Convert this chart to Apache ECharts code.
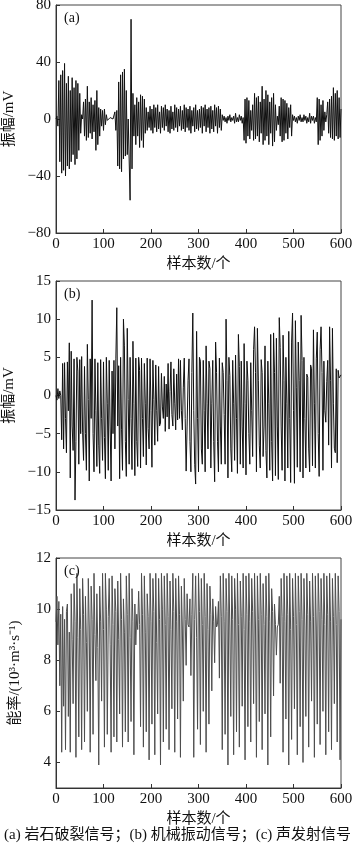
<!DOCTYPE html>
<html>
<head>
<meta charset="utf-8">
<script src="https://cdn.jsdelivr.net/npm/echarts@6/dist/echarts.min.js"></script>
<style>
  html, body { margin: 0; padding: 0; background: #fff; }
  #chart { width: 354px; height: 850px; }
</style>
</head>
<body>
<div id="chart"></div>
<script>
// sample step between points (samples 0..600)
var step = 2

// (a) rock fracture signal, mV
var rockData = [
  0, 2, -5, 27, -30, 31, -38, 34, -36, 39,
  -40, 25, -33, 30, -35, 20, -30, 29, -25, 22,
  -32, 27, -28, 25, -22, 18, -10, 3, 0, 12,
  -12, 14, -15, 23, -13, 12, -10, 15, -14, 10,
  -9, 13, -22, 20, -18, 8, -12, 7, -5, 6,
  -8, 7, -4, 3, -1, 0, 0, 1, 0, 0,
  0, -1, 5, -8, 6, -33, 26, -35, 31, -37,
  33, -28, 35, -26, 20, -25, 0, 1, -57, 70,
  -35, 18, -12, 10, -18, 15, -12, 12, -20, 17,
  -15, 16, -20, 14, -10, 8, -8, 5, -6, 9,
  -8, 7, -10, 10, -6, 8, -9, 10, -7, 5,
  -10, 9, -6, 8, -8, 10, -5, 7, -9, 6,
  -10, 9, -7, 5, -8, 10, -6, 8, -9, 7,
  -5, 9, -8, 6, -7, 10, -9, 8, -6, 7,
  -8, 9, -10, 6, -5, 8, -9, 10, -7, 6,
  -8, 7, -6, 9, -10, 8, -5, 10, -9, 7,
  -6, 8, -10, 9, -7, 6, -9, 10, -5, 8,
  -10, 9, -6, 7, -8, 3, -1, 2, -2, 1,
  -3, 2, -1, 3, -2, 1, -1, 2, -3, 4,
  -2, 1, -2, 3, -1, 2, -3, 1, -15, 14,
  -17, 15, -12, 13, -14, 6, -8, 10, -15, 18,
  -14, 15, -12, 16, -16, 12, -10, 23, -18, 14,
  -15, 20, -12, 17, -18, 12, -10, 15, -19, 18,
  -16, 10, -8, 2, -4, 9, -12, 15, -16, 14,
  -15, 13, -10, 11, -14, 8, -6, 10, -12, 3,
  -1, 2, -2, 1, -3, 2, -1, 3, -2, 1,
  -2, 3, -1, 2, -3, 1, -2, 4, -3, 2,
  -1, 2, -3, 1, -2, 15, -18, 14, -15, 10,
  -12, 13, -8, 5, -2, 3, 12, -10, 14, -13,
  16, -14, 22, -15, 18, -12, 20, -14, 15, -13,
  7
]

// (b) mechanical vibration signal, mV
var mechData = [
  0, -0.6, 0.9, -0.4, 0.6, 0, -5.8, 4.2, -7, 4.3,
  -3, -7.5, 4.4, -2, 6.9, -10.8, 5.8, -4, -7.2, 4.8,
  -13.7, -6, 5, 3.2, -9, 4.7, -5, 5.1, -4.8, -8.5,
  3.8, -5, -9.8, 6.7, -0.5, -11.2, 4.8, -3, 12.5, -5,
  -10, 4.8, -2, -9.3, 4.3, -6.5, -10.2, 4.7, -3, -8.5,
  4.4, -5.5, -10.9, 5, -1, -9.8, 4.6, -4, -11.2, 3.2,
  -5, 4.6, -7, 4.8, 11.5, -4, 3.9, -10.9, 5, -4.5,
  -9.8, 10, 6.5, -6, -10.6, 8.8, -0.5, -9, 5, -3,
  -9.7, 7.1, -1, -10.5, 4.9, -6, -9.3, 5, 3.3, -9.5,
  4.9, -3, -8, 4.2, -1, -9.1, 4.9, -4.3, -7, 4.8,
  -2, -9.4, 4.6, -0.5, -6.5, 4, -2, -6, 3.8, -4,
  -3.6, 2.9, -1.5, -3, 2.5, -4.7, 1.5, -2.8, 4.2, -4.4,
  0.5, 4.4, -2.5, -4, 3.5, -1, -4.5, 2.8, -3.2, 4.8,
  -3, 4.6, -2, -4.5, 1, 4.9, -3, -9.9, -4, 2,
  4.8, -6, -10, 3, 10.8, -2, -9, -11.6, 8.4, -3,
  -10, 5, 4.5, -7, -9, 4.6, -2, -10, 6.5, -1,
  -7, 4.5, 3.5, -9.5, -1, 4.6, -6, -11.3, 7, 3,
  -6, -10, 4.9, -4, -9, 4.3, 3, -2.5, -9, 10,
  2, -10.8, 5, 2.6, -7, -10, 4.6, -1, -8.5, 5.3,
  -3, -10.2, 8, 3.8, -9, 4.5, -4, -9.5, 6.8, -1,
  -10.4, 4.5, 2, -5, -9, 4.3, -2, -8, 6, 9,
  3, -10, 8.8, 2, -6.5, -9.5, 4.7, 3, -8, -4,
  6.5, -7.2, -10.8, 4.5, -1, -9.8, 8, -6, -11.2, 8.2,
  3, -10.5, 7.5, -4, -11, 10.2, 6.3, -4, -9.8, 7.9,
  2, -11.2, 5, -1, -9.5, 8.4, -3, -11.4, 7, 10.8,
  -2, -11.5, 9.8, 1, -9.4, 7, 2, -10, 10.5, 4.6,
  -10.8, 5, -3, -9.5, 2.8, 2.4, -7, -10, 4, 3.5,
  -9.2, 8.6, -1, -9.5, 4.8, 8.3, -5, -10.6, 6, 9,
  3, -9.8, 4.5, -2, -3.5, 1.8, 4.6, -6.5, 9, 2,
  -9.5, 8.8, -1, -6.9, -7.5, 3.5, -8.8, 3.3, 2.3, 2.5,
  2.7
]

// (c) acoustic emission signal, 10^3 m^3/s
var aeData = [
  9.5, 10.5, 8.6, 10.3, 7, 9.8, 4.4, 10.1, 6.2, 9.6,
  4.5, 9.9, 10.2, 5.8, 9.1, 4.4, 10.6, 8.8, 6.3, 11,
  9.5, 4.2, 11.4, 8.9, 5, 10.8, 9.2, 4.5, 11.2, 9.8,
  4.8, 10.5, 8.7, 6, 11.2, 9.3, 4.4, 10.9, 9.6, 5.1,
  11.4, 9, 7.2, 10.6, 8.5, 3.9, 10.9, 9.5, 6.4, 11.4,
  9.2, 4.6, 11.4, 10, 5.1, 9.7, 11.2, 8.6, 4.4, 11.3,
  9.4, 5, 10.8, 9.9, 4.8, 11.1, 8.8, 5.9, 11.4, 9.6,
  4.6, 10.4, 9.1, 5.2, 11.3, 9.8, 4.8, 11.4, 8.9, 5.6,
  10.8, 9.5, 4.3, 10.2, 8.6, 9.8, 9.2, 10.7, 9.4, 5.4,
  11.4, 9.8, 4.6, 11.3, 9.1, 5.2, 10.6, 9.7, 4.1, 11.4,
  9.5, 5.5, 11.2, 9.9, 4.3, 11.4, 8.7, 5.9, 11.2, 9.6,
  3.9, 11.4, 10, 4.8, 11.3, 9.4, 5.3, 11.4, 9.7, 4.5,
  11.1, 9.2, 6.1, 11.4, 9.9, 4.4, 11.2, 9.5, 5.7, 11.3,
  9.8, 4.2, 10.9, 9.3, 6.4, 11.2, 9.6, 7.8, 10.6, 9.4,
  9.3, 10.4, 7.4, 9.8, 11.4, 4.2, 9.6, 11.3, 8.9, 5.3,
  11.4, 9.9, 4.7, 11.2, 9.4, 6, 11.4, 9.7, 4.4, 11,
  9.2, 5.5, 10.9, 9.8, 6.8, 10.4, 9.5, 7.9, 10.1, 9.3,
  9.4, 10.3, 7.3, 11.3, 9.7, 4.5, 11.4, 9.5, 5.1, 11.2,
  9.9, 3.9, 11.4, 9.3, 5.8, 11.3, 9.6, 4.3, 11.2, 10,
  5.2, 11.4, 9.4, 4.6, 11.1, 9.7, 6.2, 11.4, 9.2, 4.1,
  11.3, 9.8, 5.4, 11.4, 9.5, 4.8, 11.2, 9.9, 6.3, 11.4,
  9.3, 4.2, 11.3, 9.6, 5.6, 11.4, 9.8, 4.5, 11, 9.4,
  5.9, 11.3, 9.7, 3.9, 11.4, 9.5, 5, 10.8, 9.9, 6.6,
  10.2, 9.4, 8.2, 9.3, 9.4, 10.5, 7.1, 11.2, 9.7, 4.4,
  11.4, 9.5, 5.7, 11.3, 9.8, 3.9, 11.4, 9.2, 4.9, 11.2,
  9.7, 6.1, 11.4, 9.4, 4.3, 11.3, 9.9, 5.4, 11.4, 9.6,
  4, 11.2, 9.3, 5.8, 11.4, 9.8, 4.6, 11.1, 9.5, 6.4,
  11.4, 9.7, 4.2, 11.3, 9.3, 5.5, 11.4, 9.9, 4.7, 11.2,
  9.6, 6, 11.4, 9.4, 4.3, 11.3, 9.8, 5.2, 11.4, 9.5,
  4.5, 11.2, 9.7, 6.3, 11.4, 9.4, 4.8, 11.3, 9.9, 4.1,
  9.6
]

var aeTicks = [4, 6, 8, 10, 12]
var panelLabels = ['(a)', '(b)', '(c)']
var yNames = ['振幅/mV', '振幅/mV', '能率/(10³·m³·s⁻¹)']
var xName = '样本数/个'
var caption = '(a) 岩石破裂信号；(b) 机械振动信号；(c) 声发射信号'

var font = '"Liberation Serif", "Noto Sans CJK SC", serif'
var grids = [
  { left: 56, right: 13, top: 5, height: 228 },
  { left: 56, right: 13, top: 281, height: 229 },
  { left: 56, right: 13, top: 558, height: 230 }
]
var yRanges = [
  { min: -80, max: 80, interval: 40 },
  { min: -15, max: 15, interval: 5 },
  { min: 3, max: 12 }
]

function toPoints(arr) {
  return arr.map(function (v, i) { return [i * step, v] })
}

var chart = echarts.init(document.getElementById('chart'))

var xAxes = grids.map(function (g, i) {
  return {
    gridIndex: i,
    type: 'value',
    min: 0,
    max: 600,
    interval: 100,
    name: xName,
    nameLocation: 'middle',
    nameGap: 24,
    nameTextStyle: { fontFamily: font, fontSize: 15, color: '#111' },
    axisLine: { onZero: false, lineStyle: { color: '#333', width: 1 } },
    axisTick: { inside: true, length: 4, lineStyle: { color: '#333' } },
    axisLabel: { fontFamily: font, fontSize: 15, color: '#111', margin: 4 },
    splitLine: { show: false }
  }
})

var yAxes = grids.map(function (g, i) {
  var ax = {
    gridIndex: i,
    type: 'value',
    min: yRanges[i].min,
    max: yRanges[i].max,
    name: yNames[i],
    nameLocation: 'middle',
    nameGap: 33,
    nameTextStyle: { fontFamily: font, fontSize: 15, color: '#111' },
    axisLine: { onZero: false, lineStyle: { color: '#333', width: 1 } },
    axisTick: { inside: true, length: 4, lineStyle: { color: '#333' } },
    axisLabel: { fontFamily: font, fontSize: 15, color: '#111', margin: 5,
      formatter: function (v) { return String(v).replace('-', '−') } },
    splitLine: { show: false }
  }
  if (yRanges[i].interval) {
    ax.interval = yRanges[i].interval
  } else {
    ax.axisTick.customValues = aeTicks
    ax.axisLabel.customValues = aeTicks
  }
  return ax
})

chart.setOption({
  animation: false,
  backgroundColor: '#fff',
  title: panelLabels.map(function (t, i) {
    return {
      text: t,
      left: 59,
      top: grids[i].top + 1,
      textStyle: { fontFamily: font, fontSize: 14, fontWeight: 'normal', color: '#111' }
    }
  }),
  graphic: [{
    type: 'text',
    left: 4,
    top: 828,
    style: { text: caption, font: '15px ' + font, fill: '#111' }
  }],
  grid: grids.map(function (g) {
    return Object.assign({ show: true, borderColor: '#444', borderWidth: 1, outerBoundsMode: 'none' }, g)
  }),
  xAxis: xAxes,
  yAxis: yAxes,
  series: [
    { type: 'line', xAxisIndex: 0, yAxisIndex: 0, data: toPoints(rockData), symbol: 'none',
      lineStyle: { color: '#111', width: 1 } },
    { type: 'line', xAxisIndex: 1, yAxisIndex: 1, data: toPoints(mechData), symbol: 'none',
      lineStyle: { color: '#111', width: 1 } },
    { type: 'line', xAxisIndex: 2, yAxisIndex: 2, data: toPoints(aeData), symbol: 'none',
      lineStyle: { color: '#4d4d4d', width: 1 } }
  ]
})
</script>
</body>
</html>
